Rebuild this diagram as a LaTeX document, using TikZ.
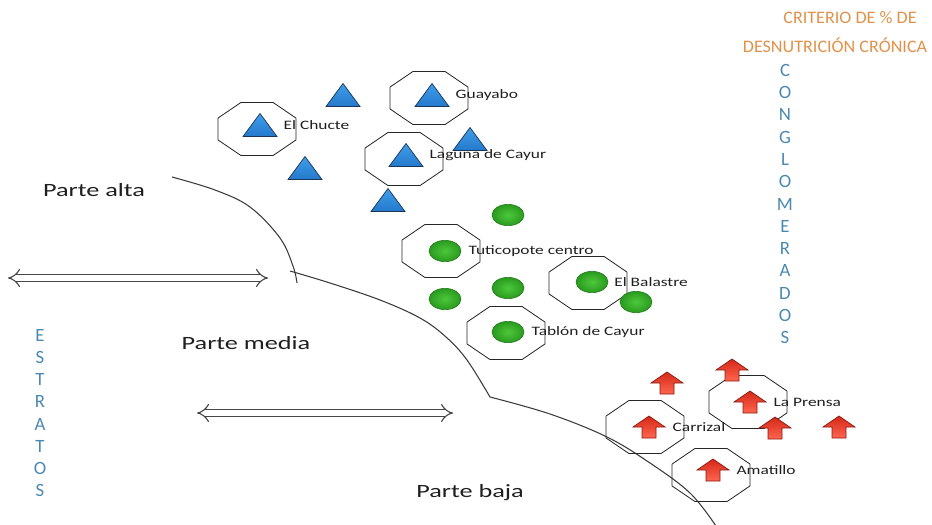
\documentclass[tikz,border=0pt]{standalone}
\usepackage{fontspec}
\setmainfont{Carlito}
\usetikzlibrary{positioning,shapes.geometric,arrows.meta}

\definecolor{critorange}{HTML}{E0924A}
\definecolor{wordblue}{HTML}{4A88B0}
\definecolor{triblue}{HTML}{2479CC}
\definecolor{trilight}{HTML}{3F9EEA}
\definecolor{triedge}{HTML}{1A3556}
\definecolor{dotgreen}{HTML}{2A9A20}
\definecolor{dotlight}{HTML}{4CC83A}
\definecolor{dotedge}{HTML}{25801C}
\definecolor{arrdark}{HTML}{D42818}
\definecolor{arrlight}{HTML}{FF6650}
\definecolor{arredge}{HTML}{8A1A10}
\definecolor{ridgegray}{HTML}{3A3A3A}

\tikzset{
  octo/.style = {regular polygon, regular polygon sides=8, draw=black!85, line width=0.7pt, minimum size=1.72cm, inner sep=0pt, xscale=1.47},
  greendot/.style = {ellipse, draw=dotedge, line width=0.5pt, inner color=dotlight, outer color=dotgreen, minimum width=0.96cm, minimum height=0.64cm, inner sep=0pt},
  sitename/.style = {font=\fontsize{11}{13}\selectfont, text=black!88, inner sep=0pt, xscale=1.35},
  zone/.style = {font=\fontsize{16}{19}\selectfont, text=black!88, xscale=1.4},
  vword/.style = {font=\fontsize{16}{19}\selectfont, text=wordblue, align=center, inner sep=0pt},
  crit/.style = {font=\fontsize{15}{17}\selectfont, text=critorange, inner sep=0pt, xscale=1.03},
  ridge/.style = {draw=ridgegray, line width=0.9pt},
  stratarrow/.style = {draw=black!72, line width=0.95pt, double=white, double distance=4.5pt, {Implies[scale=2.8]}-{Implies[scale=2.8]}},
  bluetri/.pic = {
    \draw[draw=triedge, line width=0.6pt, top color=trilight, bottom color=triblue] (-17,11.5) -- (0,-11.5) -- (17,11.5) -- cycle;
    \coordinate (-c) at (0,0);
  },
  redup/.pic = {
    \draw[draw=arredge, line width=0.6pt, top color=arrdark, bottom color=arrlight] (-16,0) -- (0,-11) -- (16,0) -- (7,0) -- (7,11) -- (-7,11) -- (-7,0) -- cycle;
    \coordinate (-c) at (0,0);
  }
}

\begin{document}
\begin{tikzpicture}[x=0.03cm, y=-0.03cm]
  \useasboundingbox (0,0) rectangle (932,524);

  % limits between the zones
  \draw[ridge] plot[smooth, tension=0.6] coordinates {(172,177) (215,190) (250,207) (280,238) (293,266) (297,283)};
  \draw[ridge] plot[smooth, tension=0.6] coordinates {(290,271) (330,283) (380,300) (420,318) (446,337) (467,360) (490,397)};
  \draw[ridge] plot[smooth, tension=0.6] coordinates {(490,397) (550,414) (607,437) (650,463) (690,493) (716,526)};

  % selected conglomerates
  \node[octo] (chucte) at (257,129) {};
  \node[octo] (guayabo) at (429,98) {};
  \node[octo] (laguna) at (404,159) {};
  \node[octo] (tuti) at (441,251) {};
  \node[octo] (balastre) at (588,283) {};
  \node[octo] (tablon) at (506,333) {};
  \node[octo] (prensa) at (748,402) {};
  \node[octo] (carrizal) at (645,427) {};
  \node[octo] (amatillo) at (711,475) {};

  % parte alta
  \pic (chuctemk) at (260,125) {bluetri};
  \pic (guayabomk) at (432,95) {bluetri};
  \pic (lagunamk) at (406,155) {bluetri};
  \pic (alta1) at (343,95) {bluetri};
  \pic (alta2) at (470,139) {bluetri};
  \pic (alta3) at (305,168) {bluetri};
  \pic (alta4) at (388,200) {bluetri};

  % parte media
  \node[greendot] (tutimk) at (445,251) {};
  \node[greendot] (balastremk) at (592,282) {};
  \node[greendot] (tablonmk) at (508,332) {};
  \node[greendot] (media1) at (508,215) {};
  \node[greendot] (media2) at (508,288) {};
  \node[greendot] (media3) at (445,299) {};
  \node[greendot] (media4) at (636,302) {};

  % parte baja
  \pic (prensamk) at (750,402) {redup};
  \pic (carrizalmk) at (649,427) {redup};
  \pic (amatillomk) at (713,470) {redup};
  \pic (baja1) at (667,383) {redup};
  \pic (baja2) at (732,370) {redup};
  \pic (baja3) at (775,428) {redup};
  \pic (baja4) at (839,427) {redup};

  \node[sitename, right=0.7cm of chuctemk-c] (chuctelbl) {El Chucte};
  \node[sitename, right=0.7cm of guayabomk-c] (guayabolbl) {Guayabo};
  \node[sitename, right=0.7cm of lagunamk-c] (lagunalbl) {Laguna de Cayur};
  \node[sitename, right=0.7cm of tutimk.center] (tutilbl) {Tuticopote centro};
  \node[sitename, right=0.66cm of balastremk.center] (balastrelbl) {El Balastre};
  \node[sitename, right=0.7cm of tablonmk.center] (tablonlbl) {Tablón de Cayur};
  \node[sitename, right=0.7cm of prensamk-c] (prensalbl) {La Prensa};
  \node[sitename, right=0.7cm of carrizalmk-c] (carrizallbl) {Carrizal};
  \node[sitename, right=0.7cm of amatillomk-c] (amatillolbl) {Amatillo};

  \node[zone] (alta) at (94,190) {Parte alta};
  \node[zone] (media) at (246,343) {Parte media};
  \node[zone] (baja) at (470,493) {Parte baja};

  \coordinate (s1a) at (8,278);
  \coordinate (s1b) at (268,278);
  \coordinate (s2a) at (197,413);
  \coordinate (s2b) at (453,413);
  \draw[stratarrow] (s1a) -- (s1b);
  \draw[stratarrow] (s2a) -- (s2b);

  \node[vword] (estratos) at (40,413) {E\\S\\T\\R\\A\\T\\O\\S};
  \node[vword] (congl) at (785,204) {C\\O\\N\\G\\L\\O\\M\\E\\R\\A\\D\\O\\S};
  \node[crit] (crit1) at (850,18) {CRITERIO DE \% DE};
  \node[crit] (crit2) at (835,45) {DESNUTRICIÓN CRÓNICA};
\end{tikzpicture}
\end{document}
